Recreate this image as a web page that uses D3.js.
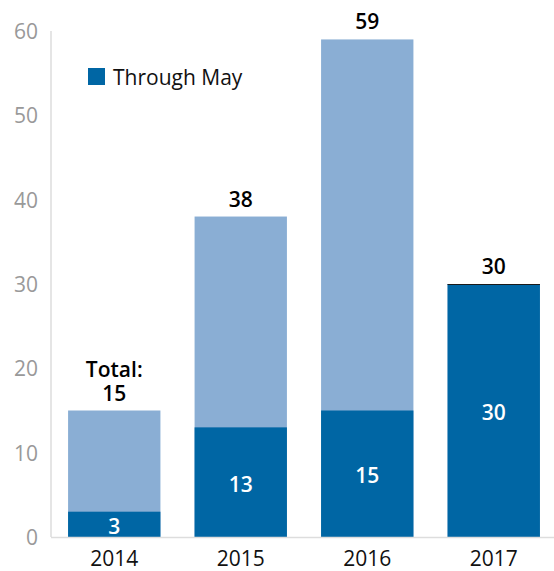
<!DOCTYPE html>
<meta charset="utf-8">
<style>
 body { margin: 0; background: #fff; }
 text { font-family: "Open Sans", "Noto Sans", sans-serif; }
 .tick text { fill: #999; font-size: 21px; }
 .year { fill: #111; font-size: 21px; }
 .legend { fill: #111; font-size: 21px; }
 .total { fill: #000; font-size: 21px; font-weight: 600; }
 .inner { fill: #fff; font-size: 21px; font-weight: 600; }
</style>
<svg class="chart"></svg>
<script src="https://cdn.jsdelivr.net/npm/d3@7"></script>
<script>

 var years = ["2014", "2015", "2016", "2017"];
 var throughMay = [3, 13, 15, 30];
 var totals = [15, 38, 59, 30];
 var yTicks = [0, 10, 20, 30, 40, 50, 60];

 var width = 554, height = 571;
 var svg = d3.select(".chart").attr("width", width).attr("height", height);

 var x = d3.scaleBand().domain(years).range([51, 557]).paddingInner(0.27).paddingOuter(0.135);
 var y = d3.scaleLinear().domain([0, 60]).range([537, 31]);

 function idx(d) { return years.indexOf(d); }

 svg.append("line").attr("x1", 51).attr("x2", 51).attr("y1", y(60)).attr("y2", y(0))
    .attr("stroke", "#ddd").attr("stroke-width", 1.5);

 var yAxis = svg.append("g").attr("transform", "translate(38,0)")
    .call(d3.axisLeft(y).tickValues(yTicks).tickSize(0).tickPadding(0));
 yAxis.select(".domain").remove();
 yAxis.selectAll("text").attr("dy", "0.35em");

 var bars = svg.selectAll(".bar").data(years).enter().append("g");

 bars.append("rect")
     .attr("x", function(d) { return x(d); })
     .attr("width", x.bandwidth())
     .attr("y", function(d) { return y(totals[idx(d)]); })
     .attr("height", function(d) { return y(0) - y(totals[idx(d)]); })
     .attr("fill", "#8aaed4");

 bars.append("rect")
     .attr("x", function(d) { return x(d); })
     .attr("width", x.bandwidth())
     .attr("y", function(d) { return y(throughMay[idx(d)]); })
     .attr("height", function(d) { return y(0) - y(throughMay[idx(d)]); })
     .attr("fill", "#0066a4");

 // thin dark cap where the whole year is "through May"
 bars.filter(function(d) { return totals[idx(d)] == throughMay[idx(d)]; }).append("line")
     .attr("x1", function(d) { return x(d); })
     .attr("x2", function(d) { return x(d) + x.bandwidth(); })
     .attr("y1", function(d) { return y(totals[idx(d)]) + 0.5; })
     .attr("y2", function(d) { return y(totals[idx(d)]) + 0.5; })
     .attr("stroke", "#1a1a1a").attr("stroke-width", 1.2);

 svg.append("line").attr("x1", 51).attr("x2", width).attr("y1", y(0) + 0.5).attr("y2", y(0) + 0.5)
    .attr("stroke", "#ddd").attr("stroke-width", 1.5);

 bars.append("text").attr("class", "inner").attr("text-anchor", "middle")
     .attr("x", function(d) { return x(d) + x.bandwidth() / 2; })
     .attr("y", function(d) { return (y(throughMay[idx(d)]) + y(0)) / 2 + 2; })
     .attr("dy", "0.35em")
     .text(function(d) { return throughMay[idx(d)]; });

 bars.append("text").attr("class", "total").attr("text-anchor", "middle")
     .attr("x", function(d) { return x(d) + x.bandwidth() / 2; })
     .attr("y", function(d) { return y(totals[idx(d)]) - 10; })
     .text(function(d) { return totals[idx(d)]; });

 svg.append("text").attr("class", "total").attr("text-anchor", "middle")
    .attr("x", x("2014") + x.bandwidth() / 2).attr("y", y(totals[0]) - 34)
    .text("Total:");

 svg.selectAll(".year").data(years).enter().append("text").attr("class", "year")
    .attr("text-anchor", "middle")
    .attr("x", function(d) { return x(d) + x.bandwidth() / 2; })
    .attr("y", 566)
    .text(function(d) { return d; });

 // legend
 svg.append("rect").attr("x", 88).attr("y", 68).attr("width", 17).attr("height", 17).attr("fill", "#0066a4");
 svg.append("text").attr("class", "legend").attr("x", 113).attr("y", 85).text("Through May");

</script>
